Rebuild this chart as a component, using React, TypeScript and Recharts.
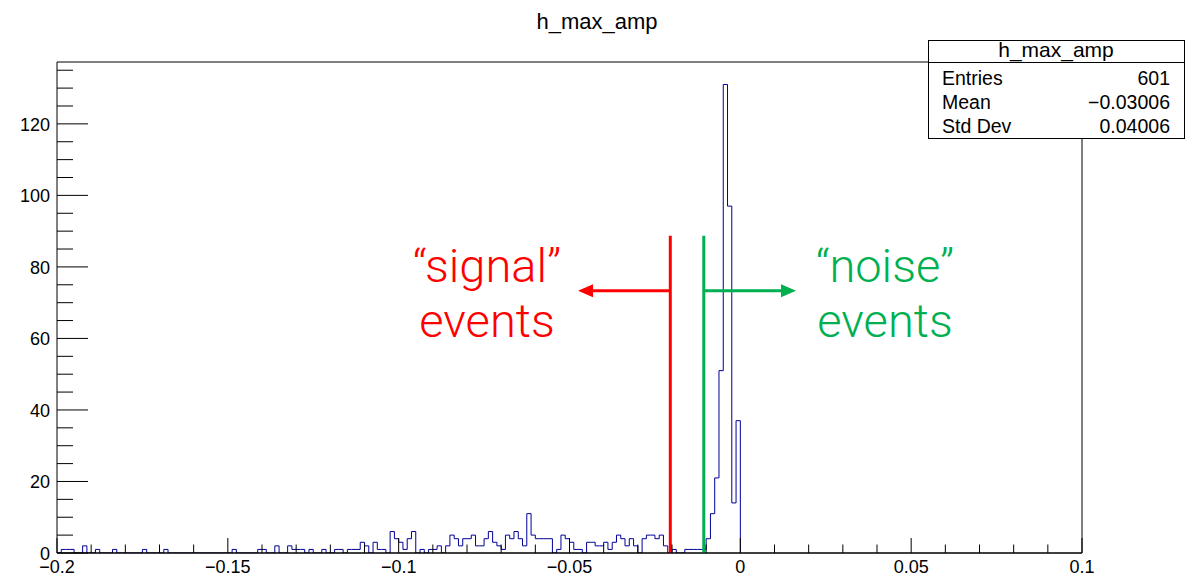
import React from 'react';
import { ComposedChart, Line, XAxis, YAxis, ReferenceLine } from 'recharts';

const FONT = '"Liberation Sans", Arial, Helvetica, sans-serif';

const xMin = -0.2;
const xMax = 0.1;
const binWidth = 0.00125;
const yMax = 137.3;

// entries per bin, first bin starts at -0.2 (everything past 0 is empty)
const binCounts = [
  0, 1, 1, 1, 0, 0, 2, 0, 0, 1,
  0, 0, 0, 1, 0, 0, 0, 0, 0, 0,
  1, 0, 0, 0, 0, 1, 0, 0, 0, 0,
  0, 0, 0, 0, 0, 0, 0, 0, 0, 0,
  0, 1, 0, 0, 0, 0, 0, 1, 1, 0,
  0, 2, 0, 0, 2, 1, 1, 1, 0, 1,
  0, 0, 1, 0, 0, 1, 1, 0, 1, 1,
  1, 3, 2, 0, 3, 1, 1, 0, 6, 4,
  3, 1, 4, 6, 0, 1, 0, 1, 1, 2,
  0, 2, 5, 4, 2, 4, 4, 5, 2, 2,
  4, 6, 3, 2, 1, 5, 4, 6, 4, 2,
  11, 5, 4, 4, 4, 4, 0, 1, 5, 4,
  3, 1, 1, 0, 3, 3, 2, 2, 3, 1,
  3, 5, 4, 2, 4, 2, 0, 4, 5, 5,
  4, 5, 2, 0, 1, 0, 0, 1, 1, 1,
  1, 1, 4, 11, 21, 51, 131, 97, 14, 37,
];

const xMajorTicks = [-0.2, -0.15, -0.1, -0.05, 0, 0.05, 0.1];
const xTickLabels = ['\u22120.2', '\u22120.15', '\u22120.1', '\u22120.05', '0', '0.05', '0.1'];
const xMinorStep = 0.01;

const yMajorTicks = [0, 20, 40, 60, 80, 100, 120];
const yTickLabels = ['0', '20', '40', '60', '80', '100', '120'];
const yMinorStep = 5;

const statsTitle = 'h_max_amp';
const statsNames = ['Entries', 'Mean', 'Std Dev'];
const statsValues = ['601', '\u22120.03006', '0.04006'];

// cut positions
const signalCut = -0.0205;
const noiseCut = -0.0107;
const cutTop = 88.7;
const arrowY = 73.3;
const signalArrowTip = -0.0475;
const noiseArrowTip = 0.0163;

// step outline: one point at each bin's lower edge, closed at the last edge
const histPoints = binCounts.map((c, i) => ({ x: xMin + i * binWidth, count: c }));
histPoints.push({ x: xMin + binCounts.length * binWidth, count: 0 });

const xTicks: number[] = [];
for (let v = xMin; v <= xMax + 1e-9; v += xMinorStep) xTicks.push(Math.round(v * 1000) / 1000);
const yTicks: number[] = [];
for (let v = 0; v <= yMax; v += yMinorStep) yTicks.push(v);

const XTick = (props: any) => {
  const { x, y, payload } = props;
  const idx = xMajorTicks.findIndex((v) => Math.abs(v - payload.value) < 1e-6);
  const major = idx >= 0;
  return (
    <g>
      <line x1={x} x2={x} y1={y} y2={y - (major ? 15 : 8.5)} stroke="#000" strokeWidth={1} />
      {major && (
        <text x={x} y={y + 19.5} textAnchor="middle" fontSize={18} fontFamily={FONT} fill="#000">
          {xTickLabels[idx]}
        </text>
      )}
    </g>
  );
};

const YTick = (props: any) => {
  const { x, y, payload } = props;
  const idx = yMajorTicks.indexOf(payload.value);
  const major = idx >= 0;
  return (
    <g>
      <line x1={x} x2={x + (major ? 31 : 16)} y1={y} y2={y} stroke="#000" strokeWidth={1} />
      {major && (
        <text x={x - 7} y={y + 7} textAnchor="end" fontSize={18} fontFamily={FONT} fill="#000">
          {yTickLabels[idx]}
        </text>
      )}
    </g>
  );
};

const Arrow = (props: any) => {
  const { x1, y1, x2, y2, stroke } = props;
  const dir = Math.sign(x2 - x1);
  const head = 15;
  const half = 6.5;
  return (
    <g>
      <line x1={x1} y1={y1} x2={x2 - dir * head} y2={y2} stroke={stroke} strokeWidth={3} />
      <polygon
        points={`${x2},${y2} ${x2 - dir * head},${y2 - half} ${x2 - dir * head},${y2 + half}`}
        fill={stroke}
      />
    </g>
  );
};

export default function App() {
  return (
    <div style={{ position: 'absolute', left: 0, top: 0, width: 1197, height: 579, background: '#fff' }}>
      <ComposedChart
        width={1197}
        height={579}
        data={histPoints}
        margin={{ top: 62, right: 115, bottom: 0, left: 0 }}
      >
        <XAxis
          dataKey="x"
          type="number"
          domain={[xMin, xMax]}
          ticks={xTicks}
          interval={0}
          tick={<XTick />}
          tickLine={false}
          tickSize={0}
          tickMargin={0}
          height={26}
          axisLine={{ stroke: '#000' }}
          allowDataOverflow
        />
        <YAxis
          type="number"
          domain={[0, yMax]}
          ticks={yTicks}
          interval={0}
          tick={<YTick />}
          tickLine={false}
          tickSize={0}
          tickMargin={0}
          width={57}
          axisLine={{ stroke: '#000' }}
          allowDataOverflow
        />
        <ReferenceLine y={yMax} stroke="#000" ifOverflow="visible" />
        <ReferenceLine x={xMax} stroke="#000" ifOverflow="visible" />
        <Line
          type="stepAfter"
          dataKey="count"
          stroke="#000099"
          strokeWidth={1}
          dot={false}
          activeDot={false}
          isAnimationActive={false}
        />
        <ReferenceLine y={0} stroke="#000" ifOverflow="visible" />
        <ReferenceLine
          segment={[{ x: signalCut, y: 0 }, { x: signalCut, y: cutTop }]}
          stroke="#ff0000"
          strokeWidth={3}
          ifOverflow="visible"
        />
        <ReferenceLine
          segment={[{ x: noiseCut, y: 0 }, { x: noiseCut, y: cutTop }]}
          stroke="#00b050"
          strokeWidth={3}
          ifOverflow="visible"
        />
        <ReferenceLine
          segment={[{ x: signalCut, y: arrowY }, { x: signalArrowTip, y: arrowY }]}
          stroke="#ff0000"
          shape={<Arrow />}
          ifOverflow="visible"
        />
        <ReferenceLine
          segment={[{ x: noiseCut, y: arrowY }, { x: noiseArrowTip, y: arrowY }]}
          stroke="#00b050"
          shape={<Arrow />}
          ifOverflow="visible"
        />
      </ComposedChart>
      <svg
        width={1197}
        height={579}
        style={{ position: 'absolute', left: 0, top: 0, pointerEvents: 'none' }}
      >
        <text x={597} y={29} textAnchor="middle" fontSize={22} fontFamily={FONT} fill="#000">
          h_max_amp
        </text>
        <rect x={928.5} y={40.5} width={256} height={98} fill="#fff" stroke="#000" strokeWidth={1} />
        <line x1={928.5} x2={1184.5} y1={62.5} y2={62.5} stroke="#000" strokeWidth={1} />
        <text x={1056} y={57} textAnchor="middle" fontSize={21} fontFamily={FONT} fill="#000">
          {statsTitle}
        </text>
        {statsNames.map((n, i) => (
          <g key={n}>
            <text x={942} y={85 + i * 24.2} fontSize={19.5} fontFamily={FONT} fill="#000">
              {n}
            </text>
            <text x={1170} y={85 + i * 24.2} textAnchor="end" fontSize={19.5} fontFamily={FONT} fill="#000">
              {statsValues[i]}
            </text>
          </g>
        ))}
        <g fontFamily='Roboto, "Liberation Sans", sans-serif' fontWeight={300} fontSize={47} textAnchor="middle">
          <text x={487} y={282} fill="#ff0000">{'\u201Csignal\u201D'}</text>
          <text x={487} y={337} fill="#ff0000">events</text>
          <text x={885} y={282} fill="#00b050">{'\u201Cnoise\u201D'}</text>
          <text x={885} y={337} fill="#00b050">events</text>
        </g>
      </svg>
    </div>
  );
}
